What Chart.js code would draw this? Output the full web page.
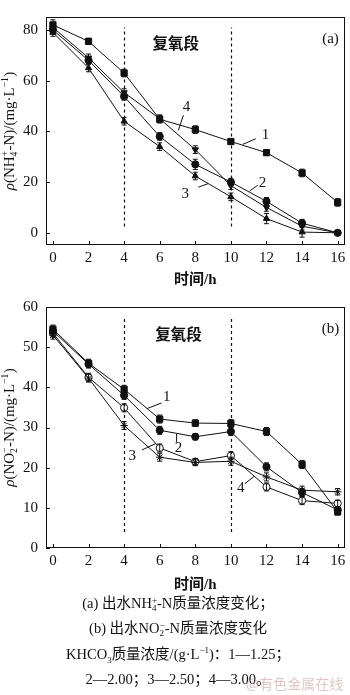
<!DOCTYPE html>
<html>
<head>
<meta charset="utf-8">
<script src="https://cdn.jsdelivr.net/npm/chart.js"></script>
<style>
  html, body { margin: 0; padding: 0; background: #fff; }
  body { width: 350px; height: 695px; position: relative; overflow: hidden; }
  .panel { position: absolute; left: 0; }
  #caption {
    position: absolute; left: 0; top: 591px; width: 356px; text-align: center;
    font-family: "Liberation Serif", "Noto Sans CJK SC", serif; font-size: 14.5px; color: #111;
    line-height: 25.3px;
  }
  #caption sub, #caption sup { font-size: 9px; line-height: 0; }
  .stk { display: inline-block; vertical-align: -3px; line-height: 8px; font-size: 9px; text-align: left; }
  #mark {
    position: absolute; left: 246px; top: 673px; font-family: "Noto Sans CJK SC", sans-serif;
    font-size: 14px; color: rgba(200, 150, 150, 0.55);
  }
</style>
</head>
<body>
<div class="panel" style="top:0"><canvas id="chartA" width="350" height="290"></canvas></div>
<div class="panel" style="top:290px"><canvas id="chartB" width="350" height="305"></canvas></div>
<div id="caption">
  <div>(a) 出水NH<span class="stk">+<br>4</span>-N质量浓度变化；</div>
  <div>(b) 出水NO<span class="stk">−<br>2</span>-N质量浓度变化</div>
  <div>KHCO<sub>3</sub>质量浓度/(g·L<sup>−1</sup>)：1—1.25；</div>
  <div>2—2.00；3—2.50；4—3.00。</div>
</div>
<div id="mark">@有色金属在线</div>
<script>
// time axis (h)
const hours = [0, 2, 4, 6, 8, 10, 12, 14, 16];
const hourTicks = [0, 2, 4, 6, 8, 10, 12, 14, 16];

// (a) NH4+-N, mg/L
const nh4_1 = [82, 75.5, 63, 44.8, 40.7, 36, 31.6, 23.6, 12];
const nh4_2 = [80, 68, 53.8, 38, 27, 20, 12.4, 3.8, 0];
const nh4_3 = [79, 65, 44, 34, 22.4, 14.2, 5.6, 0.3, 0];
const nh4_4 = [81, 69, 55.3, 45, 32.8, 18.6, 10, 2.6, 0];
const nh4_err1 = [2, 1.2, 1.5, 1.5, 1.5, 1, 1, 1.5, 1.5];
const nh4_err2 = [1.5, 1.5, 1.5, 1.5, 2, 1.5, 1.5, 1.5, 0.5];
const nh4_err3 = [1.5, 1.5, 1.5, 1.5, 1.5, 1.5, 2, 2, 0.5];
const nh4_err4 = [1.5, 1.5, 1.5, 1.5, 1.5, 1.5, 1.5, 1.5, 0.5];
const nh4Ticks = [0, 20, 40, 60, 80];

// (b) NO2--N, mg/L
const no2_1 = [54.5, 46, 39.5, 32.1, 31.1, 31, 29, 20.8, 9];
const no2_2 = [54, 45.8, 38, 29.3, 27.7, 29, 20.2, 13.8, 9.5];
const no2_3 = [53, 42.3, 30.5, 22.6, 21.3, 21.6, 17.7, 14.4, 14];
const no2_4 = [53.5, 42.5, 34.9, 24.9, 21.5, 23, 15.2, 11.8, 11.1];
const no2_err = [1, 1, 1, 1, 0.8, 1, 1, 1, 0.8];
const no2Ticks = [0, 10, 20, 30, 40, 50, 60];

// re-aeration stage boundaries
const stageHours = [4, 10];

// series labels: [text, x, y, leaderFromX, leaderFromY, leaderToX, leaderToY]
const labelsA = [
  ['4', 7.5, 49.5, 7.33, 46.4, 7.05, 40.4],
  ['1', 11.94, 38.5, 11.4, 37.1, 10.67, 34.9],
  ['2', 11.78, 19.8, 11.5, 18.7, 11.05, 16.5],
  ['3', 7.44, 15.4, 8.17, 18, 8.72, 19.4]
];
const labelsB = [
  ['1', 6.4, 37.6, 6.1, 36.1, 5.28, 34.7],
  ['2', 7.05, 24.8, 6.95, 26.4, 6.95, 28.4],
  ['3', 4.45, 22.9, 5.0, 24.4, 5.78, 26.0],
  ['4', 10.55, 15, 10.78, 16, 11.33, 17.9]
];

const SERIF = '"Liberation Serif", "Noto Sans CJK SC", serif';

function xy(vals) {
  return hours.map((h, i) => ({ x: h, y: vals[i] }));
}

function series(vals, err, style, opts) {
  return Object.assign({
    data: xy(vals),
    err: err,
    borderColor: '#111',
    borderWidth: 1,
    pointStyle: style,
    pointRadius: style === 'rect' ? 4.4 : 3.6,
    pointBackgroundColor: '#111',
    pointBorderColor: '#111',
    pointBorderWidth: 1,
    tension: 0
  }, opts || {});
}

// y title drawn piece by piece so the rho is italic and the sub/superscripts sit right
function drawYTitle(ctx, parts, cx, cy) {
  const size = 15;
  const small = 9.5;
  function pw(p) {
    if (p.t) { ctx.font = (p.it ? 'italic ' : '') + size + 'px ' + SERIF; return ctx.measureText(p.t).width; }
    ctx.font = small + 'px ' + SERIF;
    return Math.max(p.sub ? ctx.measureText(p.sub).width : 0, p.sup ? ctx.measureText(p.sup).width : 0) + 0.5;
  }
  let total = 0;
  parts.forEach(p => total += pw(p));
  ctx.save();
  ctx.translate(cx, cy);
  ctx.rotate(-Math.PI / 2);
  ctx.fillStyle = '#111';
  ctx.textBaseline = 'alphabetic';
  ctx.textAlign = 'left';
  let x = -total / 2;
  const base = 5;
  parts.forEach(p => {
    const w = pw(p);
    if (p.t) {
      ctx.font = (p.it ? 'italic ' : '') + size + 'px ' + SERIF;
      ctx.fillText(p.t, x, base);
    } else {
      ctx.font = small + 'px ' + SERIF;
      if (p.sup) ctx.fillText(p.sup, x, base - 6);
      if (p.sub) ctx.fillText(p.sub, x, base + 3);
    }
    x += w;
  });
  ctx.restore();
}

const panelDecor = {
  id: 'panelDecor',
  afterDatasetsDraw(chart) {
    const cfg = chart.options.plugins.panelDecor;
    const ctx = chart.ctx;
    const xs = chart.scales.x, ys = chart.scales.y;
    const a = chart.chartArea;
    ctx.save();

    // error bars
    ctx.strokeStyle = '#111';
    ctx.lineWidth = 1;
    chart.data.datasets.forEach(ds => {
      ds.data.forEach((p, i) => {
        const e = ds.err[i];
        const px = xs.getPixelForValue(p.x);
        const y1 = ys.getPixelForValue(p.y + e);
        const y2 = ys.getPixelForValue(p.y - e);
        ctx.beginPath();
        ctx.moveTo(px, y1); ctx.lineTo(px, y2);
        ctx.moveTo(px - 2.5, y1); ctx.lineTo(px + 2.5, y1);
        ctx.moveTo(px - 2.5, y2); ctx.lineTo(px + 2.5, y2);
        ctx.stroke();
      });
    });

    // dashed stage lines
    ctx.setLineDash([3, 3]);
    ctx.lineWidth = 1.2;
    stageHours.forEach(h => {
      const px = Math.round(xs.getPixelForValue(h)) + 0.5;
      ctx.beginPath();
      ctx.moveTo(px, ys.getPixelForValue(cfg.dashFrom));
      ctx.lineTo(px, ys.getPixelForValue(cfg.dashTo));
      ctx.stroke();
    });
    ctx.setLineDash([]);

    // frame and inward ticks
    ctx.lineWidth = 1;
    ctx.strokeRect(Math.round(a.left) + 0.5, Math.round(a.top) + 0.5,
      Math.round(a.right - a.left) - 1, Math.round(a.bottom - a.top) - 1);
    ctx.beginPath();
    hourTicks.forEach(h => {
      const px = Math.round(xs.getPixelForValue(h)) + 0.5;
      ctx.moveTo(px, a.bottom); ctx.lineTo(px, a.bottom - 4);
    });
    cfg.yTicks.forEach(v => {
      const py = Math.round(ys.getPixelForValue(v)) + 0.5;
      ctx.moveTo(a.left, py); ctx.lineTo(a.left + 4, py);
    });
    ctx.stroke();

    // stage text and panel tag
    ctx.fillStyle = '#111';
    ctx.textAlign = 'center';
    ctx.textBaseline = 'middle';
    ctx.font = 'bold 15.5px "Noto Sans CJK SC", sans-serif';
    ctx.fillText('复氧段', xs.getPixelForValue(cfg.stageText[0]), ys.getPixelForValue(cfg.stageText[1]));
    ctx.font = '15px ' + SERIF;
    ctx.fillText(cfg.tag[0], xs.getPixelForValue(cfg.tag[1]), ys.getPixelForValue(cfg.tag[2]));

    // series numbers with leaders
    cfg.labels.forEach(l => {
      ctx.font = '15px ' + SERIF;
      ctx.fillText(l[0], xs.getPixelForValue(l[1]), ys.getPixelForValue(l[2]));
      ctx.beginPath();
      ctx.moveTo(xs.getPixelForValue(l[3]), ys.getPixelForValue(l[4]));
      ctx.lineTo(xs.getPixelForValue(l[5]), ys.getPixelForValue(l[6]));
      ctx.stroke();
    });

    drawYTitle(ctx, cfg.yTitle, 9, (a.top + a.bottom) / 2);
    ctx.restore();
  }
};

function makePanel(id, datasets, yMin, yMax, yTicks, xHeight, padTop, decor) {
  return new Chart(document.getElementById(id), {
    type: 'line',
    data: { datasets: datasets },
    plugins: [panelDecor],
    options: {
      responsive: false,
      animation: false,
      events: [],
      layout: { padding: { top: padTop, right: 2, left: 0, bottom: 0 } },
      plugins: { legend: { display: false }, tooltip: { enabled: false }, panelDecor: decor },
      scales: {
        x: {
          type: 'linear', min: -0.39, max: 16.39,
          afterBuildTicks: s => { s.ticks = hourTicks.map(v => ({ value: v })); },
          afterFit: s => { s.height = xHeight; },
          grid: { display: false, drawTicks: false },
          border: { display: false },
          ticks: { color: '#111', font: { family: SERIF, size: 15 }, padding: 4, maxRotation: 0 },
          title: {
            display: true, text: '时间/h', color: '#111',
            font: { family: SERIF, size: 15, weight: 'bold' },
            padding: { top: 0, bottom: 1 }
          }
        },
        y: {
          min: yMin, max: yMax,
          afterBuildTicks: s => { s.ticks = yTicks.map(v => ({ value: v })); },
          afterFit: s => { s.width = 46; },
          grid: { display: false, drawTicks: false },
          border: { display: false },
          ticks: { color: '#111', font: { family: SERIF, size: 15 }, padding: 8 }
        }
      }
    }
  });
}

makePanel('chartA', [
  series(nh4_1, nh4_err1, 'rect'),
  series(nh4_2, nh4_err2, 'circle'),
  series(nh4_3, nh4_err3, 'triangle'),
  series(nh4_4, nh4_err4, 'triangle', { pointRotation: 180 })
], -4.8, 85.1, nh4Ticks, 45, 0, {
  yTicks: nh4Ticks, dashFrom: 2.5, dashTo: 81, stageText: [6.9, 75], tag: ['(a)', 15.6, 76.3],
  labels: labelsA,
  yTitle: [{ t: 'ρ', it: true }, { t: '(NH' }, { sub: '4', sup: '+' }, { t: '-N)/(mg·L' }, { sup: '−1' }, { t: ')' }]
});

makePanel('chartB', [
  series(no2_1, no2_err, 'rect'),
  series(no2_2, no2_err, 'circle'),
  series(no2_3, no2_err, 'star', { pointRadius: 3.8 }),
  series(no2_4, no2_err, 'circle', { pointBackgroundColor: '#fff' })
], 0, 60, no2Ticks, 47, 14, {
  yTicks: no2Ticks, dashFrom: 4, dashTo: 57.3, stageText: [7.05, 53.2], tag: ['(b)', 15.6, 54.4],
  labels: labelsB,
  yTitle: [{ t: 'ρ', it: true }, { t: '(NO' }, { sub: '2', sup: '−' }, { t: '-N)/(mg·L' }, { sup: '−1' }, { t: ')' }]
});
</script>
</body>
</html>
